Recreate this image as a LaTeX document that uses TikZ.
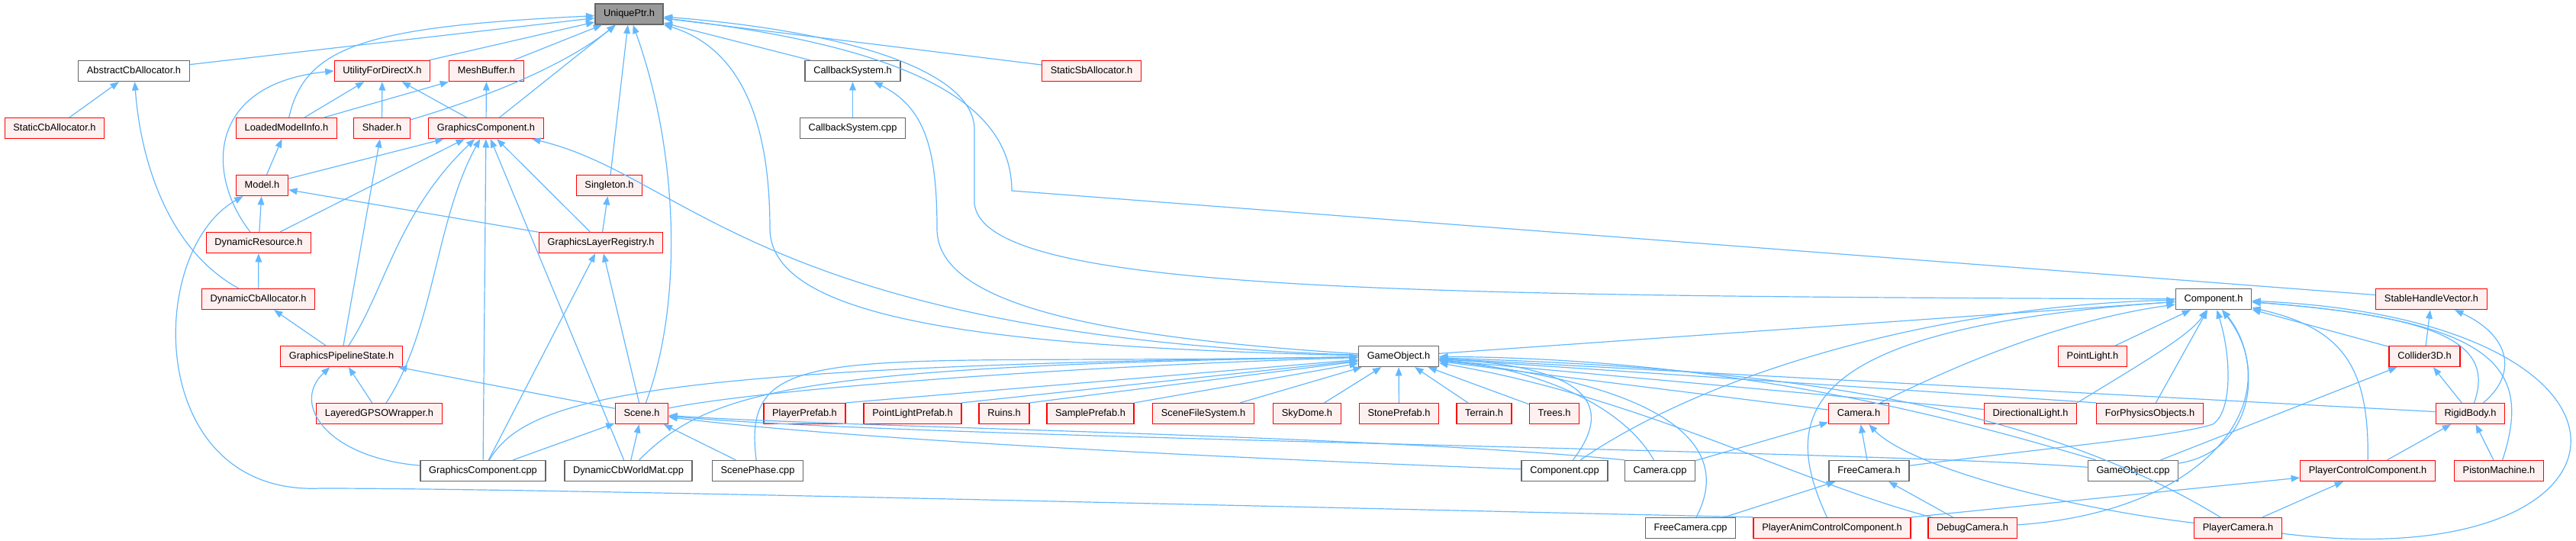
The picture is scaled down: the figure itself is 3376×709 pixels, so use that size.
\documentclass[tikz,border=0pt]{standalone}
\usepackage{fontspec}
\setmainfont{Liberation Sans}
\usepackage{tikz}
\usetikzlibrary{arrows.meta}

\definecolor{edgeblue}{HTML}{63B8FF}
\definecolor{truncfill}{HTML}{FFF0F0}
\definecolor{greyline}{HTML}{666666}
\definecolor{rootfill}{HTML}{999999}

\begin{document}
\begin{tikzpicture}[x=0.75pt, y=-0.75pt,
        file_box/.style={draw=greyline, fill=white, line width=1pt, minimum height=20.25pt, inner xsep=8.4pt, inner ysep=0pt, text height=7pt, text depth=2pt, font=\fontsize{9.6}{11}\selectfont},
        trunc_box/.style={file_box, draw=red, fill=truncfill},
        root_box/.style={file_box, fill=rootfill},
        inc_arrow/.style={draw=edgeblue, line width=0.9pt, -{Triangle[length=8.5pt, width=6.5pt]}}
    ]
    \useasboundingbox (0,0) rectangle (3376,709);

    % ================= Nodes =================
    % rank 0
    \node[root_box] (uptr) at (824.5,18.5) {UniquePtr.h};
    % rank 1
    \node[file_box] (abscb) at (175.5,93) {AbstractCbAllocator.h};
    \node[trunc_box] (ufdx) at (501,93) {UtilityForDirectX.h};
    \node[trunc_box] (meshbuf) at (637.5,93) {MeshBuffer.h};
    \node[file_box] (cbsys) at (1117.5,93) {CallbackSystem.h};
    \node[trunc_box] (staticsb) at (1430.5,93) {StaticSbAllocator.h};
    % rank 2
    \node[trunc_box] (staticcb) at (71.5,168) {StaticCbAllocator.h};
    \node[trunc_box] (lmi) at (375.5,168) {LoadedModelInfo.h};
    \node[trunc_box] (shader) at (500.5,168) {Shader.h};
    \node[trunc_box] (gch) at (637,168) {GraphicsComponent.h};
    \node[file_box] (cbsyscpp) at (1117.5,168) {CallbackSystem.cpp};
    % rank 3
    \node[trunc_box] (model) at (343.5,243) {Model.h};
    \node[trunc_box] (singleton) at (798.5,243) {Singleton.h};
    % rank 4
    \node[trunc_box] (dynres) at (339,318) {DynamicResource.h};
    \node[trunc_box] (glr) at (787.5,318) {GraphicsLayerRegistry.h};
    % rank 5
    \node[trunc_box] (dyncb) at (338.5,392) {DynamicCbAllocator.h};
    \node[file_box] (comph) at (2901,392) {Component.h};
    \node[trunc_box] (shv) at (3186.5,392) {StableHandleVector.h};
    % rank 6
    \node[trunc_box] (gps) at (447.5,467) {GraphicsPipelineState.h};
    \node[file_box] (goh) at (1833,467) {GameObject.h};
    \node[trunc_box] (plight) at (2742.5,467) {PointLight.h};
    \node[trunc_box] (coll) at (3177.5,467) {Collider3D.h};
    % rank 7
    \node[trunc_box] (lgpso) at (497,542) {LayeredGPSOWrapper.h};
    \node[trunc_box] (scene) at (841,542) {Scene.h};
    \node[trunc_box] (pprefab) at (1054.5,542) {PlayerPrefab.h};
    \node[trunc_box] (plprefab) at (1196,542) {PointLightPrefab.h};
    \node[trunc_box] (ruins) at (1316,542) {Ruins.h};
    \node[trunc_box] (sprefab) at (1429,542) {SamplePrefab.h};
    \node[trunc_box] (sfs) at (1577,542) {SceneFileSystem.h};
    \node[trunc_box] (skydome) at (1713,542) {SkyDome.h};
    \node[trunc_box] (stone) at (1833.5,542) {StonePrefab.h};
    \node[trunc_box] (terrain) at (1945,542) {Terrain.h};
    \node[trunc_box] (trees) at (2037,542) {Trees.h};
    \node[trunc_box] (camh) at (2436,542) {Camera.h};
    \node[trunc_box] (dlight) at (2661,542) {DirectionalLight.h};
    \node[trunc_box] (fpo) at (2817.5,542) {ForPhysicsObjects.h};
    \node[trunc_box] (rigid) at (3237.5,542) {RigidBody.h};
    % rank 8
    \node[file_box] (gccpp) at (633,617) {GraphicsComponent.cpp};
    \node[file_box] (dcwm) at (823.5,617) {DynamicCbWorldMat.cpp};
    \node[file_box] (sphase) at (993,617) {ScenePhase.cpp};
    \node[file_box] (compcpp) at (2050.5,617) {Component.cpp};
    \node[file_box] (camcpp) at (2175.5,617) {Camera.cpp};
    \node[file_box] (fcamh) at (2449.5,617) {FreeCamera.h};
    \node[file_box] (gocpp) at (2795.5,617) {GameObject.cpp};
    \node[trunc_box] (pcc) at (3103,617) {PlayerControlComponent.h};
    \node[trunc_box] (piston) at (3275,617) {PistonMachine.h};
    % rank 9
    \node[file_box] (fcamcpp) at (2215.5,692) {FreeCamera.cpp};
    \node[trunc_box] (pacc) at (2401,692) {PlayerAnimControlComponent.h};
    \node[trunc_box] (dcam) at (2585,692) {DebugCamera.h};
    \node[trunc_box] (pcam) at (2933,692) {PlayerCamera.h};

    % ================= Includes of UniquePtr.h =================
    \draw[inc_arrow] (abscb) -- (uptr);
    \draw[inc_arrow] (ufdx) -- (uptr);
    \draw[inc_arrow] (meshbuf) -- (uptr);
    \draw[inc_arrow] (cbsys) -- (uptr);
    \draw[inc_arrow] (staticsb) -- (uptr);
    \draw[inc_arrow] (lmi) .. controls (400,60) and (480,35) .. (uptr);
    \draw[inc_arrow] (shader) .. controls (680,115) and (760,70) .. (uptr);
    \draw[inc_arrow] (gch) -- (uptr);
    \draw[inc_arrow] (singleton) -- (uptr);
    \draw[inc_arrow] (scene) .. controls (895,400) and (890,200) .. (uptr);
    \draw[inc_arrow] (goh) .. controls (1300,455) and (1010,420) .. (1009,300) .. controls (1009,140) and (960,60) .. (uptr);
    \draw[inc_arrow] (comph) .. controls (1800,388) and (1290,380) .. (1277,267) -- (1277,170) .. controls (1277,90) and (1100,40) .. (uptr);
    \draw[inc_arrow] (shv) -- (1326,250) .. controls (1326,130) and (1180,60) .. (uptr);

    % ================= Upper part =================
    \draw[inc_arrow] (staticcb) -- (abscb);
    \draw[inc_arrow] (dyncb) .. controls (225,330) and (185,220) .. (abscb);
    \draw[inc_arrow] (lmi) -- (ufdx);
    \draw[inc_arrow] (lmi) -- (meshbuf);
    \draw[inc_arrow] (shader) -- (ufdx);
    \draw[inc_arrow] (gch) -- (ufdx);
    \draw[inc_arrow] (gch) -- (meshbuf);
    \draw[inc_arrow] (dynres) .. controls (270,230) and (270,110) .. (ufdx.west);
    \draw[inc_arrow] (cbsyscpp) -- (cbsys);
    \draw[inc_arrow] (goh) .. controls (1400,440) and (1228,390) .. (1228,300) .. controls (1228,190) and (1210,140) .. (cbsys);
    \draw[inc_arrow] (goh) .. controls (1000,440) and (900,230) .. (gch);
    \draw[inc_arrow] (model) -- (lmi);
    \draw[inc_arrow] (model) -- (gch);
    \draw[inc_arrow] (dynres) -- (model);
    \draw[inc_arrow] (dynres) -- (gch);
    \draw[inc_arrow] (glr) -- (model);
    \draw[inc_arrow] (glr) -- (gch);
    \draw[inc_arrow] (glr) -- (singleton);
    \draw[inc_arrow] (dyncb) -- (dynres);

    % ================= Graphics pipeline =================
    \draw[inc_arrow] (gps) -- (dyncb);
    \draw[inc_arrow] (gps) -- (shader);
    \draw[inc_arrow] (gps) .. controls (505,380) and (520,280) .. (gch);
    \draw[inc_arrow] (lgpso) -- (gps);
    \draw[inc_arrow] (lgpso) .. controls (570,430) and (570,290) .. (gch);
    \draw[inc_arrow] (gccpp) -- (gch);
    \draw[inc_arrow] (gccpp) .. controls (430,600) and (380,530) .. (gps);
    \draw[inc_arrow] (gccpp) -- (glr);
    \draw[inc_arrow] (gccpp) -- (scene);
    \draw[inc_arrow] (gccpp) .. controls (690,520) and (850,480) .. (goh);
    \draw[inc_arrow] (dcwm) -- (gch);
    \draw[inc_arrow] (dcwm) -- (scene);
    \draw[inc_arrow] (dcwm) .. controls (930,510) and (1050,480) .. (goh);

    % ================= Scene.h =================
    \draw[inc_arrow] (scene) -- (glr);
    \draw[inc_arrow] (scene) -- (gps);
    \draw[inc_arrow] (scene) .. controls (1000,510) and (1400,480) .. (goh);
    \draw[inc_arrow] (sphase) -- (scene);
    \draw[inc_arrow] (sphase) .. controls (970,440) and (1100,480) .. (goh);

    % ================= Includes of GameObject.h =================
    \draw[inc_arrow] (pprefab.north east) -- (goh);
    \draw[inc_arrow] (plprefab.north east) -- (goh);
    \draw[inc_arrow] (ruins.north east) -- (goh);
    \draw[inc_arrow] (sprefab.north east) -- (goh);
    \draw[inc_arrow] (sfs) -- (goh);
    \draw[inc_arrow] (skydome) -- (goh);
    \draw[inc_arrow] (stone) -- (goh);
    \draw[inc_arrow] (terrain) -- (goh);
    \draw[inc_arrow] (trees) -- (goh);
    \draw[inc_arrow] (goh) -- (comph);

    \draw[inc_arrow] (compcpp) .. controls (2125,520) and (2060,480) .. (goh);
    \draw[inc_arrow] (compcpp) .. controls (2250,480) and (2560,400) .. (comph);
    \draw[inc_arrow] (compcpp) .. controls (1600,600) and (1100,575) .. (scene);
    \draw[inc_arrow] (camcpp) .. controls (2120,520) and (1990,480) .. (goh);
    \draw[inc_arrow] (camcpp) -- (camh);
    \draw[inc_arrow] (camcpp.north west) .. controls (1800,570) and (1100,560) .. (scene);
    \draw[inc_arrow] (fcamcpp) .. controls (2280,570) and (2150,500) .. (goh);
    \draw[inc_arrow] (fcamcpp) -- (fcamh);

    % ================= Cameras =================
    \draw[inc_arrow] (camh) -- (goh);
    \draw[inc_arrow] (camh) .. controls (2560,480) and (2700,420) .. (comph);
    \draw[inc_arrow] (fcamh) -- (camh);
    \draw[inc_arrow] (fcamh) .. controls (2700,585) and (2850,572) .. (2900,556) .. controls (2925,540) and (2925,470) .. (comph);
    \draw[inc_arrow] (dcam) -- (fcamh);
    \draw[inc_arrow] (dcam) .. controls (2350,630) and (2150,520) .. (goh);
    \draw[inc_arrow] (dcam) .. controls (2900,670) and (3000,520) .. (comph);
    \draw[inc_arrow] (pcam) .. controls (2700,665) and (2500,610) .. (camh);
    \draw[inc_arrow] (pcam) .. controls (2620,500) and (2200,480) .. (goh);
    \draw[inc_arrow] (pcam) -- (pcc);
    \draw[inc_arrow] (pcam) .. controls (3480,760) and (3520,420) .. (comph);

    % ================= Components =================
    \draw[inc_arrow] (dlight) -- (goh);
    \draw[inc_arrow] (fpo.north west) -- (goh);
    \draw[inc_arrow] (rigid) -- (goh);
    \draw[inc_arrow] (gocpp) .. controls (2600,560) and (2300,470) .. (goh);
    \draw[inc_arrow] (gocpp) .. controls (2960,590) and (2965,470) .. (comph);
    \draw[inc_arrow] (gocpp) -- (coll);
    \draw[inc_arrow] (gocpp) .. controls (2450,590) and (1200,575) .. (scene);
    \draw[inc_arrow] (plight) -- (comph);
    \draw[inc_arrow] (dlight.north east) .. controls (2800,480) and (2870,440) .. (comph);
    \draw[inc_arrow] (fpo) -- (comph);
    \draw[inc_arrow] (coll) -- (comph);
    \draw[inc_arrow] (coll) -- (shv);
    \draw[inc_arrow] (rigid) -- (coll);
    \draw[inc_arrow] (rigid) .. controls (3300,490) and (3290,440) .. (shv);
    \draw[inc_arrow] (rigid) .. controls (3270,450) and (3200,415) .. (comph);
    \draw[inc_arrow] (pcc) -- (rigid);
    \draw[inc_arrow] (pcc) .. controls (3105,480) and (3070,430) .. (comph);
    \draw[inc_arrow] (piston) -- (rigid);
    \draw[inc_arrow] (piston) .. controls (3320,480) and (3270,420) .. (comph);

    % ================= PlayerAnimControlComponent.h =================
    \draw[inc_arrow] (pacc.north east) -- (pcc);
    \draw[inc_arrow] (pacc) .. controls (2330,540) and (2360,430) .. (comph);
    \draw[inc_arrow] (pacc.north west) .. controls (1500,660) and (700,640) .. (420,640) .. controls (190,650) and (190,330) .. (model);

\end{tikzpicture}
\end{document}
